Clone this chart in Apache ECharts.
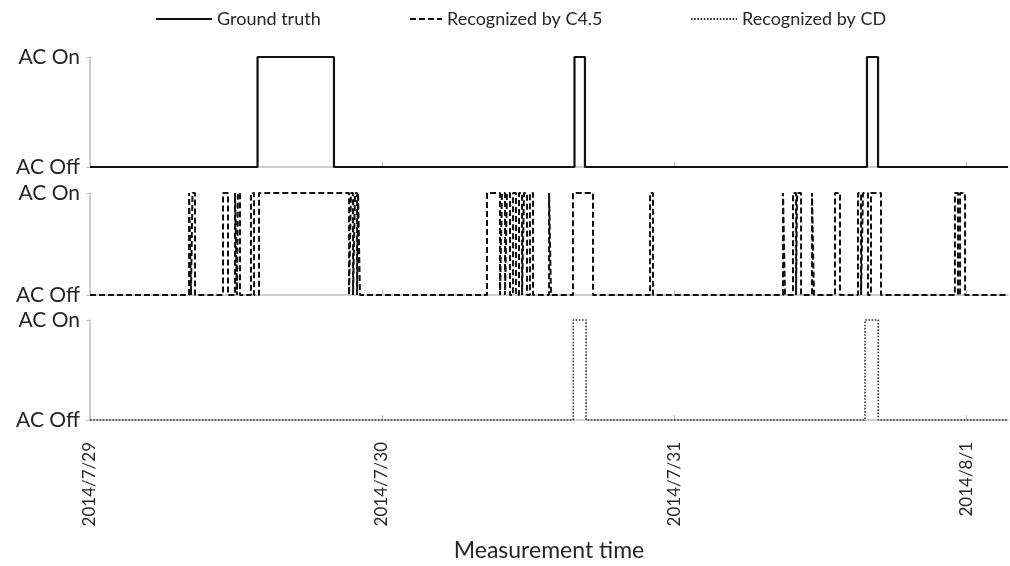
<!DOCTYPE html>
<html>
<head>
<meta charset="utf-8">
<script src="https://cdn.jsdelivr.net/npm/echarts@6/dist/echarts.min.js"></script>
<style>
  html, body { margin: 0; padding: 0; background: #fff; }
  #chart { width: 1010px; height: 566px; }
</style>
</head>
<body>
<div id="chart"></div>
<script>
// Hours since 2014/7/29 00:00; each pair is an "AC On" interval [start, end]
const dayLabels = ['2014/7/29', '2014/7/30', '2014/7/31', '2014/8/1'];
const stateLabels = ['AC Off', 'AC On'];
const axisMaxHour = 75.45;

const groundTruthOn = [[13.77, 20.05], [39.82, 40.68], [63.86, 64.77]];

const c45On = [
  [8.14, 8.30], [8.42, 8.63], [10.93, 11.34], [11.92, 12.08], [12.16, 12.33],
  [13.23, 13.48], [13.89, 21.29], [21.45, 21.62], [21.78, 21.95], [22.03, 22.19],
  [32.63, 33.70], [33.86, 34.11], [34.27, 34.52], [34.77, 35.01], [35.26, 35.51],
  [35.67, 35.92], [36.16, 36.41], [37.73, 37.89], [39.70, 41.34], [46.03, 46.27],
  [56.96, 57.12], [57.78, 58.03], [58.11, 58.44], [59.34, 59.50], [61.23, 61.64],
  [63.12, 63.37], [63.53, 63.94], [64.19, 65.01], [71.09, 71.34], [71.51, 71.92]
];

const cdOn = [[39.72, 40.77], [63.70, 64.79]];

function toSteps(intervals) {
  const pts = [[0, 0]];
  intervals.forEach(([s, e]) => {
    pts.push([s, 0], [s, 1], [e, 1], [e, 0]);
  });
  pts.push([axisMaxHour, 0]);
  return pts;
}

const FONT = 'Lato';
const AXIS_GRAY = '#bfbfbf';
const TEXT = '#262626';

const grids = [
  { left: 90, right: 2, top: 57, height: 110 },
  { left: 90, right: 2, top: 193, height: 102 },
  { left: 90, right: 2, top: 320, height: 100 }
];

function xAxisFor(i) {
  const last = i === 2;
  return {
    type: 'value',
    gridIndex: i,
    min: 0,
    max: axisMaxHour,
    interval: 24,
    axisLine: { show: true, lineStyle: { color: AXIS_GRAY, width: 1.5 } },
    axisTick: { show: true, inside: true, length: 5, lineStyle: { color: AXIS_GRAY }, customValues: [0, 24, 48, 72] },
    splitLine: { show: false },
    axisLabel: {
      show: last,
      rotate: 90,
      margin: 22,
      customValues: [0, 24, 48, 72],
      formatter: v => dayLabels[Math.round(v / 24)] || '',
      fontFamily: FONT,
      fontSize: 17,
      color: TEXT
    },
    name: last ? 'Measurement time' : '',
    nameLocation: 'middle',
    nameGap: 119,
    nameTextStyle: { fontFamily: FONT, fontSize: 23, color: TEXT }
  };
}

function yAxisFor(i) {
  return {
    type: 'value',
    gridIndex: i,
    min: 0,
    max: 1,
    interval: 1,
    axisLine: { show: true, lineStyle: { color: AXIS_GRAY, width: 1.5 } },
    axisTick: { show: true, length: 4, lineStyle: { color: AXIS_GRAY } },
    splitLine: { show: false },
    axisLabel: {
      margin: 10,
      formatter: v => stateLabels[v] || '',
      fontFamily: FONT,
      fontSize: 21,
      color: TEXT
    }
  };
}

const legendText = { fontFamily: FONT, fontSize: 18, color: TEXT };
const legendCommon = {
  top: 10, itemHeight: 14, itemGap: 0, padding: 0,
  textStyle: legendText,
  itemStyle: { opacity: 0 },
  lineStyle: { inactiveColor: '#111' }
};

const option = {
  animation: false,
  backgroundColor: '#ffffff',
  grid: grids,
  xAxis: [xAxisFor(0), xAxisFor(1), xAxisFor(2)],
  yAxis: [yAxisFor(0), yAxisFor(1), yAxisFor(2)],
  legend: [
    Object.assign({ data: ['Ground truth'], left: 155, itemWidth: 56 }, legendCommon),
    Object.assign({ data: ['Recognized by C4.5'], left: 409, itemWidth: 32 }, legendCommon),
    Object.assign({ data: ['Recognized by CD'], left: 690, itemWidth: 46 }, legendCommon)
  ],
  series: [
    {
      name: 'Ground truth', type: 'line', xAxisIndex: 0, yAxisIndex: 0,
      data: toSteps(groundTruthOn), showSymbol: false, symbol: 'none', clip: false,
      lineStyle: { color: '#111', width: 2.2, type: 'solid' }, itemStyle: { color: '#111' }
    },
    {
      name: 'Recognized by C4.5', type: 'line', xAxisIndex: 1, yAxisIndex: 1,
      data: toSteps(c45On), showSymbol: false, symbol: 'none', clip: false,
      lineStyle: { color: '#111', width: 2, type: [6, 3] }, itemStyle: { color: '#111' }
    },
    {
      name: 'Recognized by CD', type: 'line', xAxisIndex: 2, yAxisIndex: 2,
      data: toSteps(cdOn), showSymbol: false, symbol: 'none', clip: false,
      lineStyle: { color: '#333', width: 1.6, type: [1.6, 1.6] }, itemStyle: { color: '#333' }
    }
  ]
};

const chart = echarts.init(document.getElementById('chart'), null, { renderer: 'canvas' });
chart.setOption(option);
</script>
</body>
</html>
